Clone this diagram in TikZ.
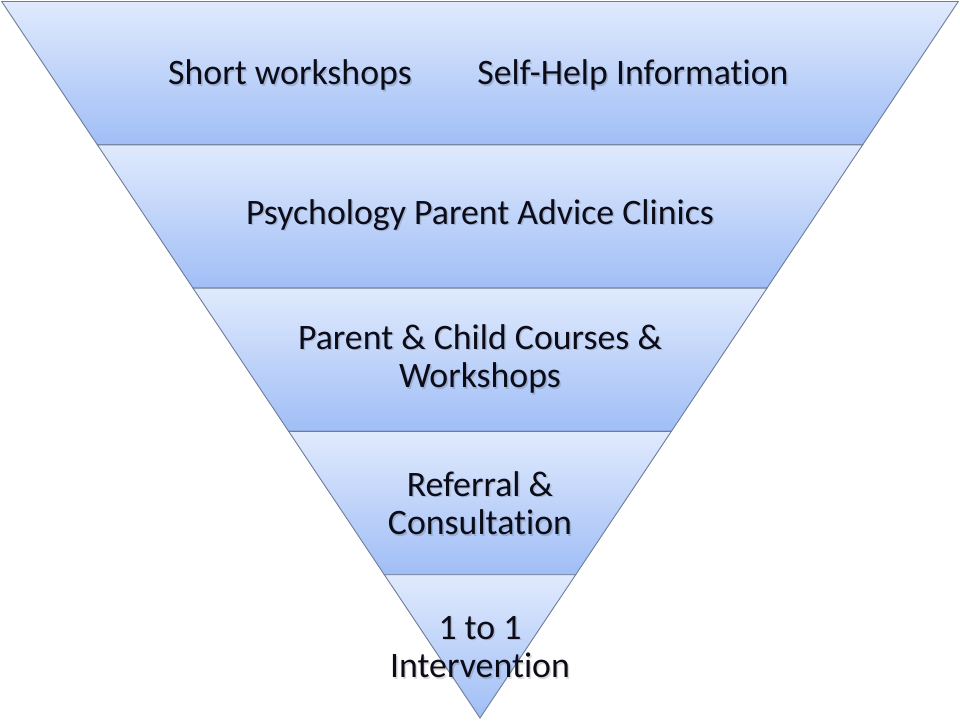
\documentclass[tikz,border=0pt]{standalone}
\usepackage{fontspec}
\setmainfont[Ligatures={NoCommon,NoContextual,NoRequired}]{Carlito}
\definecolor{bandtop}{RGB}{224,234,253}
\definecolor{bandbot}{RGB}{160,190,246}
\definecolor{bandline}{RGB}{110,125,150}
\definecolor{txt}{RGB}{12,12,24}
\tikzset{
  band/.style={top color=bandtop, bottom color=bandbot, draw=bandline, line width=0.9pt, line join=miter},
  lbl/.style={text=txt, font=\fontsize{35.8}{38.5}\selectfont, align=center, inner sep=0pt},
  shd/.style={text=black, opacity=0.14, font=\fontsize{35.8}{38.5}\selectfont, align=center, inner sep=0pt}
}
\newcommand{\hw}[1]{0.667598*(718-#1)}
\begin{document}
\begin{tikzpicture}[x=1pt,y=-1pt]
\useasboundingbox[fill=white] (0,0) rectangle (960,720);
% bands
\foreach \a/\b in {1.5/144.8, 144.8/288.1, 288.1/431.4, 431.4/574.7}{
  \path[band] ({480-\hw{\a}},\a) -- ({480+\hw{\a}},\a) -- ({480+\hw{\b}},\b) -- ({480-\hw{\b}},\b) -- cycle;
}
\path[band] ({480-\hw{574.7}},574.7) -- ({480+\hw{574.7}},574.7) -- (480,718) -- cycle;
% shadows
\node[shd] at (291.5,76.5) {Short workshops};
\node[shd] at (634.5,76.5) {Self-Help Information};
\node[shd] at (481.5,216.5) {Psychology Parent Advice Clinics};
\node[shd] at (481.5,360.5) {Parent \& Child Courses \&\\Workshops};
\node[shd] at (481.5,504.5) {Referral \&\\Consultation};
\node[shd] at (481.5,648.5) {1 to 1\\Intervention};
% labels
\node[lbl] (t1a) at (290,75) {Short workshops};
\node[lbl] (t1b) at (633,75) {Self-Help Information};
\node[lbl] (t2) at (480,215) {Psychology Parent Advice Clinics};
\node[lbl] (t3) at (480,359) {Parent \& Child Courses \&\\Workshops};
\node[lbl] (t4) at (480,503) {Referral \&\\Consultation};
\node[lbl] (t5) at (480,647) {1 to 1\\Intervention};
\end{tikzpicture}
\end{document}
